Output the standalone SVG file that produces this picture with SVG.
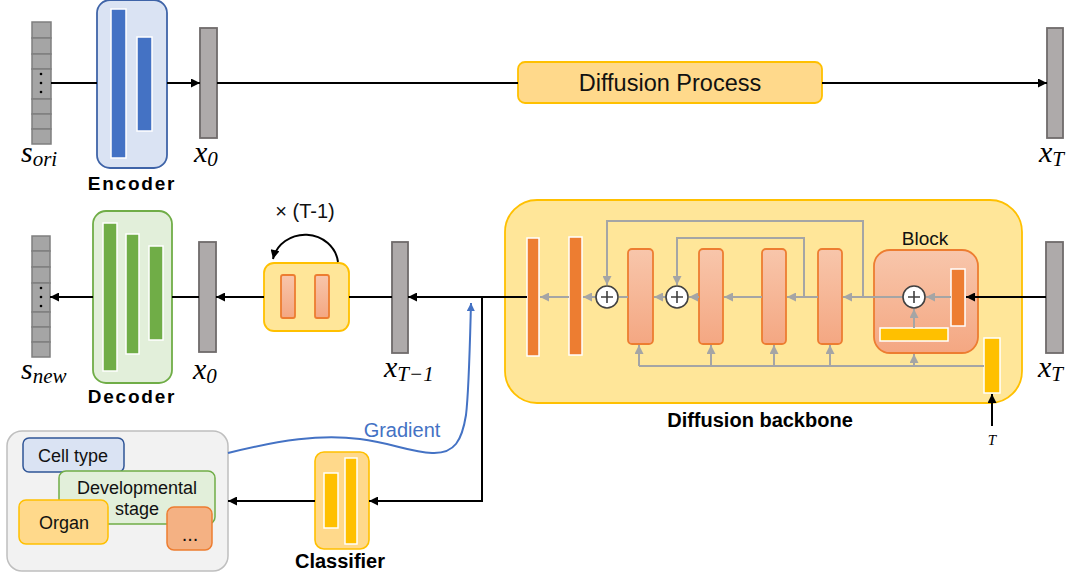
<svg xmlns="http://www.w3.org/2000/svg" width="1073" height="577" viewBox="0 0 1073 577">
  <defs>
    <linearGradient id="pink" x1="0" y1="0" x2="0" y2="1">
      <stop offset="0" stop-color="#f8c6ab"/>
      <stop offset="1" stop-color="#f4a782"/>
    </linearGradient>
    <marker id="arrowBlack" viewBox="0 0 10 10" refX="10" refY="5" markerWidth="11" markerHeight="9" markerUnits="userSpaceOnUse" orient="auto">
      <path d="M0,0 L10,5 L0,10 z" fill="#000"/>
    </marker>
    <marker id="arrowGrey" viewBox="0 0 10 10" refX="10" refY="5" markerWidth="10" markerHeight="9" markerUnits="userSpaceOnUse" orient="auto">
      <path d="M0,0 L10,5 L0,10 z" fill="#a5a5a5"/>
    </marker>
    <marker id="arrowBlue" viewBox="0 0 10 10" refX="10" refY="5" markerWidth="10" markerHeight="8" markerUnits="userSpaceOnUse" orient="auto">
      <path d="M0,0 L10,5 L0,10 z" fill="#4472c4"/>
    </marker>
  </defs>
  <style>
    .cell { fill: #a5a5a5; stroke: #7f7f7f; stroke-width: 1.5; }
    .vec { fill: #aeaaaa; stroke: #6f6b6b; stroke-width: 1.8; }
    .blue { fill: #4472c4; stroke: #fff; stroke-width: 1.5; }
    .green { fill: #70ad47; stroke: #fff; stroke-width: 1.5; }
    .dark { fill: #ed7d31; stroke: #fff; stroke-width: 1.5; }
    .gold { fill: #ffc000; stroke: #fff; stroke-width: 1.5; }
    .pinkblk { fill: url(#pink); stroke: #ed7d31; stroke-width: 1.8; }
    .yellowbox { fill: #ffe699; stroke: #ffc000; stroke-width: 1.8; }
    .sans { font-family: "Liberation Sans", Arial, sans-serif; fill: #111; }
    .bold { font-family: "Liberation Sans", Arial, sans-serif; font-weight: bold; font-size: 20px; fill: #000; }
    .bold-wide { font-family: "Liberation Sans", Arial, sans-serif; font-weight: bold; font-size: 19px; letter-spacing: 1.8px; fill: #000; }
    .math { font-family: "Liberation Serif", "DejaVu Serif", serif; font-style: italic; font-size: 30px; fill: #000; }
    .sub { font-size: 21px; }
    .legend { font-size: 18px; }
    .blk { fill: none; stroke: #000; stroke-width: 2; }
    .gry { fill: none; stroke: #a5a5a5; stroke-width: 2; }
    .plus { fill: #fff; stroke: #404040; stroke-width: 1.6; }
    .plusmark { stroke: #404040; stroke-width: 1.6; }
  </style>

  <!-- original cell profile -->
  <g id="s-ori">
    <rect class="cell" x="32" y="22" width="19" height="16"/>
    <rect class="cell" x="32" y="38" width="19" height="16"/>
    <rect class="cell" x="32" y="54" width="19" height="15"/>
    <rect class="cell" x="32" y="69" width="19" height="30"/>
    <rect class="cell" x="32" y="99" width="19" height="15"/>
    <rect class="cell" x="32" y="114" width="19" height="15"/>
    <rect class="cell" x="32" y="129" width="19" height="15"/>
    <circle cx="41" cy="74" r="1.3" fill="#000"/>
    <circle cx="41" cy="83" r="1.3" fill="#000"/>
    <circle cx="41" cy="92" r="1.3" fill="#000"/>
    <text class="math" x="21" y="162">s<tspan class="sub" dy="4">ori</tspan></text>
  </g>

  <!-- encoder -->
  <g id="encoder">
    <rect x="97" y="0" width="70" height="168" rx="13" fill="#dae3f3" stroke="#3f64a8" stroke-width="1.8"/>
    <rect class="blue" x="111" y="9" width="15" height="149"/>
    <rect class="blue" x="137" y="37" width="15" height="94"/>
    <text class="bold-wide" x="132" y="190" text-anchor="middle">Encoder</text>
  </g>

  <!-- latent x0 (forward) -->
  <g id="x0-top">
    <rect class="vec" x="200" y="28" width="17" height="110"/>
    <text class="math" x="194" y="162">x<tspan class="sub" dy="4">0</tspan></text>
  </g>

  <!-- forward diffusion -->
  <g id="diffusion-process">
    <rect x="518" y="62" width="304" height="41" rx="7" fill="#ffd98b" stroke="#ffc000" stroke-width="1.8"/>
    <text class="sans" x="670" y="91" font-size="23.5" text-anchor="middle">Diffusion Process</text>
  </g>

  <!-- noised latent xT (forward) -->
  <g id="xT-top">
    <rect class="vec" x="1047" y="28" width="16" height="110"/>
    <text class="math" x="1039" y="162">x<tspan class="sub" dy="4">T</tspan></text>
  </g>

  <!-- generated cell profile -->
  <g id="s-new">
    <rect class="cell" x="32" y="236" width="18" height="15"/>
    <rect class="cell" x="32" y="251" width="18" height="16"/>
    <rect class="cell" x="32" y="267" width="18" height="16"/>
    <rect class="cell" x="32" y="283" width="18" height="29"/>
    <rect class="cell" x="32" y="312" width="18" height="15"/>
    <rect class="cell" x="32" y="327" width="18" height="15"/>
    <rect class="cell" x="32" y="342" width="18" height="15"/>
    <circle cx="41" cy="288" r="1.3" fill="#000"/>
    <circle cx="41" cy="297" r="1.3" fill="#000"/>
    <circle cx="41" cy="306" r="1.3" fill="#000"/>
    <text class="math" x="21" y="379">s<tspan class="sub" dy="4">new</tspan></text>
  </g>

  <!-- decoder -->
  <g id="decoder">
    <rect x="93" y="211" width="79" height="172" rx="13" fill="#e2efda" stroke="#70ad47" stroke-width="1.8"/>
    <rect class="green" x="103" y="223" width="14" height="148"/>
    <rect class="green" x="126" y="234" width="13" height="120"/>
    <rect class="green" x="149" y="246" width="14" height="94"/>
    <text class="bold-wide" x="132" y="403" text-anchor="middle">Decoder</text>
  </g>

  <!-- latent x0 (reverse) -->
  <g id="x0-bottom">
    <rect class="vec" x="199" y="242" width="17" height="110"/>
    <text class="math" x="193" y="379">x<tspan class="sub" dy="4">0</tspan></text>
  </g>

  <!-- repeated denoising step -->
  <g id="denoise-loop">
    <rect class="yellowbox" x="264" y="263" width="85" height="68" rx="10"/>
    <rect class="pinkblk" x="281" y="275" width="14" height="43" rx="2"/>
    <rect class="pinkblk" x="315" y="275" width="14" height="43" rx="2"/>
    <text class="sans" x="305" y="218" font-size="20" text-anchor="middle">× (T-1)</text>
  </g>

  <!-- latent x(T-1) -->
  <g id="xT1">
    <rect class="vec" x="392" y="242" width="16" height="111"/>
    <text class="math" x="384" y="377">x<tspan class="sub" dy="4">T−1</tspan></text>
  </g>

  <!-- denoising backbone -->
  <g id="diffusion-backbone">
    <rect class="yellowbox" x="505" y="200" width="517" height="203" rx="32"/>
    <rect class="dark" x="527" y="238" width="12" height="118"/>
    <rect class="dark" x="569" y="237" width="13" height="118"/>
    <rect class="pinkblk" x="628" y="249" width="25" height="95" rx="4"/>
    <rect class="pinkblk" x="699" y="249" width="24" height="95" rx="4"/>
    <rect class="pinkblk" x="762" y="249" width="24" height="95" rx="4"/>
    <rect class="pinkblk" x="818" y="249" width="24" height="95" rx="4"/>
    <rect class="gold" x="984" y="338" width="16" height="55"/>
    <text class="bold" x="760" y="427" text-anchor="middle">Diffusion backbone</text>
    <text x="992" y="445" font-family="Liberation Serif, serif" font-style="italic" font-size="15" text-anchor="middle" fill="#000">T</text>
  </g>

  <!-- residual block -->
  <g id="block">
    <rect class="pinkblk" x="874" y="250" width="104" height="103" rx="16"/>
    <rect class="dark" x="951" y="269" width="14" height="57"/>
    <rect class="gold" x="880" y="328" width="68" height="13"/>
    <text class="sans" x="925" y="245" font-size="19" text-anchor="middle">Block</text>
  </g>

  <!-- noised latent xT (reverse) -->
  <g id="xT-bottom">
    <rect class="vec" x="1046" y="242" width="17" height="111"/>
    <text class="math" x="1038" y="377">x<tspan class="sub" dy="4">T</tspan></text>
  </g>

  <!-- classifier -->
  <g id="classifier">
    <rect x="315" y="452" width="54" height="97" rx="9" fill="#ffd98b" stroke="#ffc000" stroke-width="1.6"/>
    <rect class="gold" x="324" y="473" width="14" height="55"/>
    <rect class="gold" x="345" y="458" width="12" height="86"/>
    <text class="bold" x="340" y="568" text-anchor="middle">Classifier</text>
  </g>

  <!-- conditioning attributes -->
  <g id="attributes">
    <rect x="7" y="431" width="221" height="140" rx="15" fill="#f2f2f2" stroke="#bfbfbf" stroke-width="1.5"/>
    <g id="cell-type">
      <rect x="23" y="438" width="101" height="34" rx="6" fill="#dae3f3" stroke="#2f5597" stroke-width="1.5"/>
      <text class="sans legend" x="73" y="462" text-anchor="middle">Cell type</text>
    </g>
    <g id="dev-stage">
      <rect x="59" y="471" width="156" height="53" rx="7" fill="#e2efda" stroke="#70ad47" stroke-width="1.5"/>
      <text class="sans legend" x="137" y="494" text-anchor="middle">Developmental</text>
      <text class="sans legend" x="137" y="515" text-anchor="middle">stage</text>
    </g>
    <g id="organ">
      <rect x="19" y="500" width="89" height="44" rx="7" fill="#ffd98b" stroke="#ffc000" stroke-width="1.5"/>
      <text class="sans legend" x="64" y="529" text-anchor="middle">Organ</text>
    </g>
    <g id="more">
      <rect x="167" y="507" width="45" height="43" rx="7" fill="#f4b183" stroke="#ed7d31" stroke-width="1.5"/>
      <text class="sans" x="190" y="541" font-size="20" text-anchor="middle">...</text>
    </g>
  </g>

  <!-- connectors -->
  <g id="connectors">
    <!-- forward (top) path -->
    <path class="blk" d="M51,83 H97"/>
    <path class="blk" d="M167,83 H200" marker-end="url(#arrowBlack)"/>
    <path class="blk" d="M217,83 H518"/>
    <path class="blk" d="M822,83 H1047" marker-end="url(#arrowBlack)"/>

    <!-- reverse (bottom) path -->
    <path class="blk" d="M1046,297 H966" marker-end="url(#arrowBlack)"/>
    <path class="blk" d="M527,297 H408" marker-end="url(#arrowBlack)"/>
    <path class="blk" d="M482,297 V501 H369" marker-end="url(#arrowBlack)"/>
    <path class="blk" d="M315,501 H228" marker-end="url(#arrowBlack)"/>
    <path class="blk" d="M392,297 H349"/>
    <path class="blk" d="M264,297 H216" marker-end="url(#arrowBlack)"/>
    <path class="blk" d="M199,297 H172"/>
    <path class="blk" d="M93,297 H50" marker-end="url(#arrowBlack)"/>
    <path class="blk" d="M338,262 A33,31 0 0 0 273,259" marker-end="url(#arrowBlack)"/>
    <path class="blk" d="M992,426 V394" marker-end="url(#arrowBlack)"/>

    <!-- guidance gradient -->
    <path d="M228,453 C280,440 320,434 360,439 C392,443 410,452 432,453 C455,454 462,440 466,415 C469,390 470,340 471,303" fill="none" stroke="#4472c4" stroke-width="2" marker-end="url(#arrowBlue)"/>
    <text class="sans" x="402" y="437" font-size="20" text-anchor="middle" style="fill:#4472c4">Gradient</text>

    <!-- backbone internal flow -->
    <path class="gry" d="M639,366 H984"/>
    <path class="gry" d="M639,366 V345" marker-end="url(#arrowGrey)"/>
    <path class="gry" d="M711,366 V345" marker-end="url(#arrowGrey)"/>
    <path class="gry" d="M774,366 V345" marker-end="url(#arrowGrey)"/>
    <path class="gry" d="M830,366 V345" marker-end="url(#arrowGrey)"/>
    <path class="gry" d="M914,366 V354" marker-end="url(#arrowGrey)"/>
    <path class="gry" d="M914,328 V309" marker-end="url(#arrowGrey)"/>
    <path class="gry" d="M951,297 H926" marker-end="url(#arrowGrey)"/>
    <path class="gry" d="M903,297 H843" marker-end="url(#arrowGrey)"/>
    <path class="gry" d="M818,297 H787" marker-end="url(#arrowGrey)"/>
    <path class="gry" d="M762,297 H724" marker-end="url(#arrowGrey)"/>
    <path class="gry" d="M699,297 H689" marker-end="url(#arrowGrey)"/>
    <path class="gry" d="M666,297 H654" marker-end="url(#arrowGrey)"/>
    <path class="gry" d="M628,297 H619"/>
    <path class="gry" d="M596,297 H583" marker-end="url(#arrowGrey)"/>
    <path class="gry" d="M569,297 H540" marker-end="url(#arrowGrey)"/>
    <path class="gry" d="M863,297 V221 H607 V285" marker-end="url(#arrowGrey)"/>
    <path class="gry" d="M804,297 V238 H677 V285" marker-end="url(#arrowGrey)"/>

    <!-- summation nodes -->
    <g id="plus-1">
      <circle class="plus" cx="607" cy="297" r="11"/>
      <path class="plusmark" d="M601,297 H613 M607,291 V303"/>
    </g>
    <g id="plus-2">
      <circle class="plus" cx="677" cy="297" r="11"/>
      <path class="plusmark" d="M671,297 H683 M677,291 V303"/>
    </g>
    <g id="plus-block">
      <circle class="plus" cx="914" cy="297" r="11"/>
      <path class="plusmark" d="M908,297 H920 M914,291 V303"/>
    </g>
  </g>
</svg>
